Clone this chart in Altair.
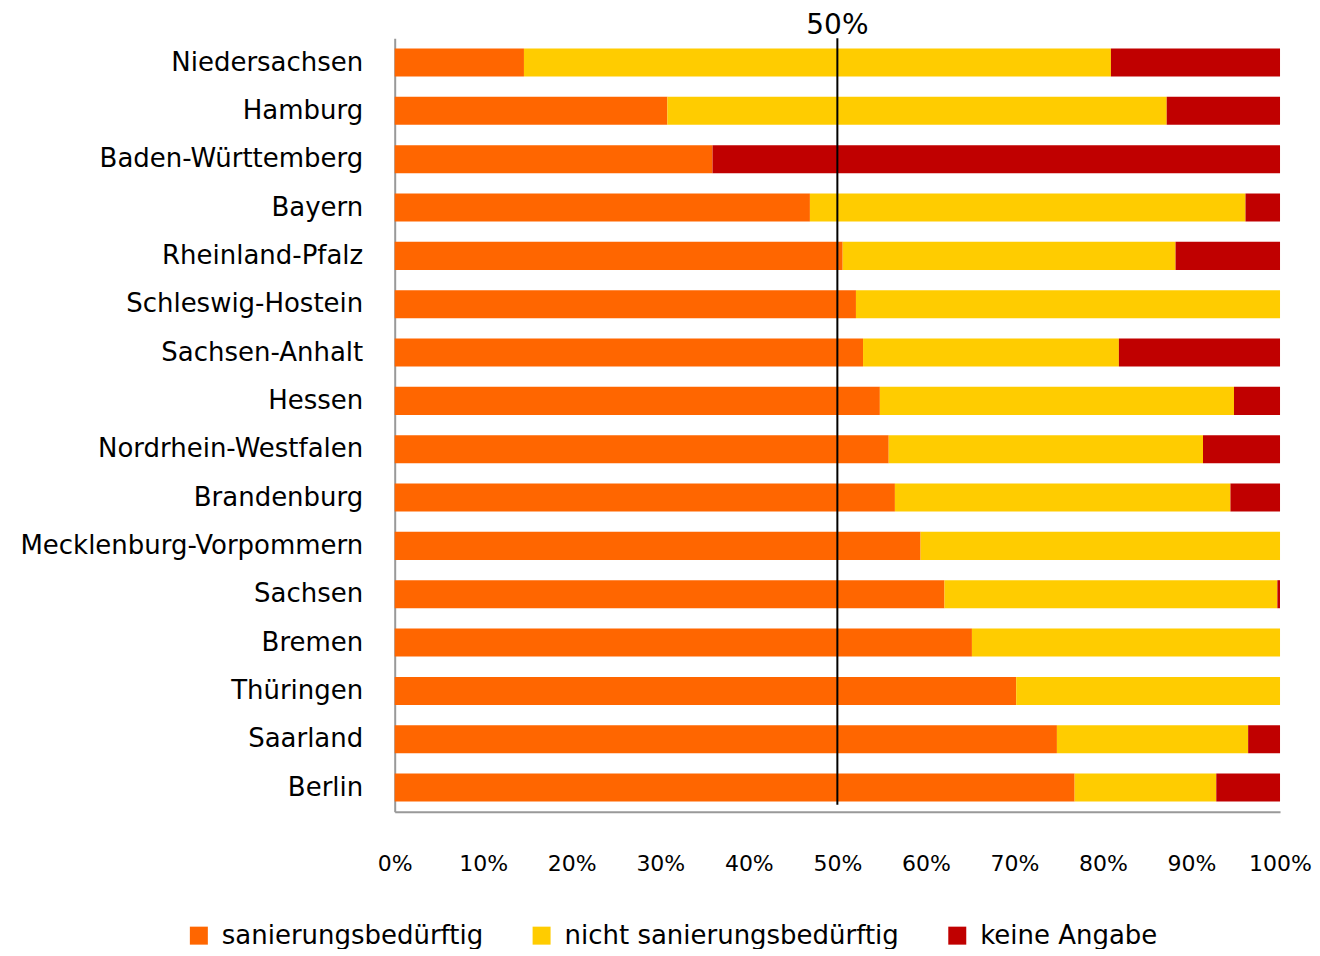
import altair as alt
import pandas as pd

laender = ["Niedersachsen", "Hamburg", "Baden-Württemberg", "Bayern", "Rheinland-Pfalz",
           "Schleswig-Hostein", "Sachsen-Anhalt", "Hessen", "Nordrhein-Westfalen",
           "Brandenburg", "Mecklenburg-Vorpommern", "Sachsen", "Bremen", "Thüringen",
           "Saarland", "Berlin"]
saniert = [14.6, 30.8, 35.9, 46.9, 50.6, 52.1, 52.9, 54.8, 55.8, 56.5, 59.4, 62.1, 65.2, 70.2, 74.8, 76.8]
nicht = [66.3, 56.4, 0.0, 49.2, 37.6, 47.9, 28.9, 40.0, 35.5, 37.9, 40.6, 37.6, 34.8, 29.8, 21.6, 16.0]
keine = [19.1, 12.8, 64.1, 3.9, 11.8, 0.0, 18.2, 5.2, 8.7, 5.6, 0.0, 0.3, 0.0, 0.0, 3.6, 7.2]

kat = ["sanierungsbedürftig", "nicht sanierungsbedürftig", "keine Angabe"]
farben = ["#FF6600", "#FFCC00", "#C00000"]

rows = []
for i, l in enumerate(laender):
    for k, (name, vals) in enumerate(zip(kat, [saniert, nicht, keine])):
        rows.append({"Land": l, "Kategorie": name, "Wert": vals[i] / 100.0, "ord": k})
df = pd.DataFrame(rows)

FONT = "DejaVu Sans"

bars = alt.Chart(df).mark_bar().encode(
    y=alt.Y("Land:N", sort=laender, title=None,
            scale=alt.Scale(paddingInner=0.42, paddingOuter=0.21),
            axis=alt.Axis(labelFontSize=26, labelFont=FONT, labelColor="#000000",
                          ticks=False, labelPadding=32, domainColor="#999999",
                          domainWidth=2, labelLimit=500)),
    x=alt.X("Wert:Q", stack="normalize", title=None,
            scale=alt.Scale(domain=[0, 1], nice=False),
            axis=alt.Axis(format="%", values=[i / 10 for i in range(11)], grid=False,
                          ticks=False, labelPadding=42, labelFontSize=22, labelFont=FONT,
                          labelColor="#000000", domainColor="#999999", domainWidth=2,
                          labelFlush=False)),
    color=alt.Color("Kategorie:N", scale=alt.Scale(domain=kat, range=farben),
                    legend=alt.Legend(title=None, orient="none", direction="horizontal",
                                      legendX=-209, legendY=885, symbolType="square",
                                      symbolSize=324, symbolStrokeWidth=0,
                                      labelFontSize=26, labelFont=FONT, labelColor="#000000",
                                      labelOffset=10, columnPadding=45, labelLimit=600,
                                      padding=0)),
    order=alt.Order("ord:Q"),
)

linie = alt.Chart(pd.DataFrame({"x": [0.5]})).mark_rule(color="#000000", strokeWidth=2).encode(
    x="x:Q", y=alt.value(0), y2=alt.value(767))

text = alt.Chart(pd.DataFrame({"x": [0.5], "t": ["50%"]})).mark_text(
    fontSize=28, font=FONT, color="#000000", baseline="alphabetic", dy=-4).encode(
    x="x:Q", y=alt.value(0), text="t:N")

chart = alt.layer(bars, linie, text).properties(
    width=886, height=774,
    padding={"left": 11, "top": 4, "right": 0, "bottom": 0},
).configure_view(strokeWidth=0, stroke="transparent")

chart.save("out.html", embed_options={"renderer": "svg", "actions": False})
